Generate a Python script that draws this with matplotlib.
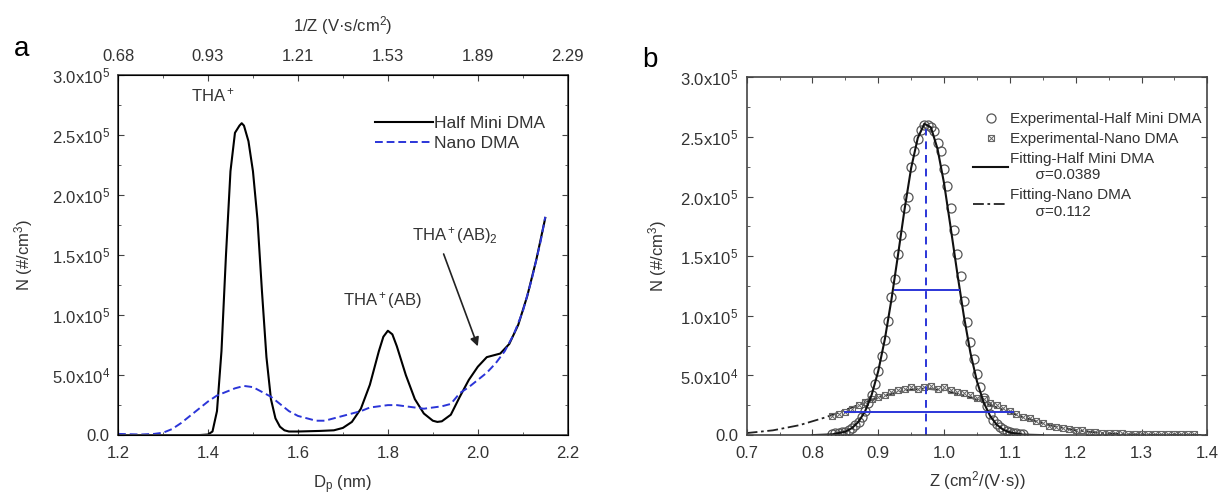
import numpy as np
import matplotlib.pyplot as plt
from matplotlib.ticker import MultipleLocator

plt.rcParams['font.family'] = ['Liberation Sans', 'DejaVu Sans']
plt.rcParams['mathtext.fontset'] = 'custom'
plt.rcParams['mathtext.rm'] = 'Liberation Sans'
plt.rcParams['mathtext.it'] = 'Liberation Sans:italic'

# ---- panel a: size distributions (N in units of 1e3 #/cm3)
dp_half = [1.20, 1.30, 1.38, 1.40, 1.41, 1.42, 1.43, 1.44, 1.45, 1.46, 1.465, 1.47, 1.475,
           1.48, 1.49, 1.50, 1.51, 1.52, 1.53, 1.54, 1.55, 1.56, 1.57, 1.58, 1.60, 1.65,
           1.68, 1.70, 1.72, 1.74, 1.76, 1.78, 1.79, 1.80, 1.81, 1.82, 1.84, 1.86, 1.88,
           1.90, 1.91, 1.92, 1.94, 1.96, 1.98, 2.00, 2.02, 2.04, 2.05, 2.07, 2.09, 2.11,
           2.13, 2.15]
n_half = [0, 0, 0, 0.5, 3, 20, 70, 150, 220, 252, 255, 258, 260,
          258, 245, 220, 180, 120, 65, 30, 14, 7, 4, 3, 3, 3.5,
          4, 6, 11, 22, 42, 70, 82, 87, 84, 74, 50, 30, 18,
          12, 11, 11.5, 17, 32, 46, 57, 65, 67, 68, 76, 92, 116,
          146, 181]

dp_nano = [1.20, 1.25, 1.28, 1.30, 1.32, 1.34, 1.36, 1.38, 1.40, 1.42, 1.44, 1.46, 1.48,
           1.50, 1.52, 1.54, 1.56, 1.58, 1.60, 1.62, 1.64, 1.66, 1.68, 1.70, 1.72, 1.74,
           1.76, 1.78, 1.80, 1.82, 1.84, 1.86, 1.88, 1.90, 1.92, 1.94, 1.96, 1.98, 2.00,
           2.02, 2.04, 2.06, 2.08, 2.10, 2.12, 2.14, 2.15]
n_nano = [1, 0.5, 1, 2, 5, 10, 16, 22, 28, 33, 36, 39, 41,
          40, 36, 32, 26, 20, 16, 14, 12, 12, 14, 16, 18, 20,
          23, 24, 25, 25, 24, 23, 22, 23, 24, 26, 35, 40, 46,
          52, 60, 70, 84, 103, 130, 162, 182]

top_ticks = [1.2, 1.4, 1.6, 1.8, 2.0, 2.2]
top_labels = ['0.68', '0.93', '1.21', '1.53', '1.89', '2.29']

# ---- panel b: mobility distributions
z_half_exp = [0.830, 0.835, 0.840, 0.845, 0.850, 0.855, 0.860, 0.865, 0.870, 0.875, 0.880,
              0.885, 0.890, 0.895, 0.900, 0.905, 0.910, 0.915, 0.920, 0.925, 0.930, 0.935,
              0.940, 0.945, 0.950, 0.955, 0.960, 0.965, 0.970, 0.975, 0.980, 0.985, 0.990,
              0.995, 1.000, 1.005, 1.010, 1.015, 1.020, 1.025, 1.030, 1.035, 1.040, 1.045,
              1.050, 1.055, 1.060, 1.065, 1.070, 1.075, 1.080, 1.085, 1.090, 1.095, 1.100,
              1.105, 1.110, 1.115, 1.120]
n_half_exp = [1, 1.5, 2, 2.5, 3, 4.5, 6, 8.5, 11, 15, 20,
              27, 34, 43, 54, 66, 80, 96, 116, 131, 152, 168,
              190, 200, 225, 238, 248, 256, 260, 260, 258, 255, 245,
              238, 223, 209, 190, 172, 152, 133, 112, 95, 78, 64,
              51, 40, 31, 24, 18, 13, 9.5, 7, 5, 3.5, 2.5,
              2, 1.5, 1, 0.8]

z_nano_exp = [0.83, 0.84, 0.85, 0.86, 0.87, 0.88, 0.89, 0.90, 0.91, 0.92, 0.93, 0.94, 0.95,
              0.96, 0.97, 0.98, 0.99, 1.00, 1.01, 1.02, 1.03, 1.04, 1.05, 1.06, 1.07, 1.08,
              1.09, 1.10, 1.11, 1.12, 1.13, 1.14, 1.15, 1.16, 1.17, 1.18, 1.19, 1.20, 1.21,
              1.22, 1.23, 1.24, 1.25, 1.26, 1.27, 1.28, 1.29, 1.30, 1.31, 1.32, 1.33, 1.34,
              1.35, 1.36, 1.37, 1.38]
n_nano_exp = [16, 18, 19, 22, 25, 28, 30, 32, 34, 36, 38, 39, 40,
              39, 40, 41, 39, 40, 38, 36, 35, 34, 31, 30, 27, 25,
              23, 20, 18, 15, 14, 12, 10, 8, 7, 6, 5, 4.5, 4,
              3, 2.5, 2, 2, 1.5, 1.5, 1, 1, 1, 1, 0.8, 0.8, 0.8,
              0.8, 0.8, 0.8, 0.8]

z_half_fit = [0.80, 0.83, 0.85, 0.86, 0.87, 0.88, 0.89, 0.90, 0.91, 0.92, 0.93, 0.94, 0.95,
              0.96, 0.97, 0.98, 0.99, 1.00, 1.01, 1.02, 1.03, 1.04, 1.05, 1.06, 1.07, 1.08,
              1.09, 1.10, 1.12, 1.15]
n_half_fit = [0, 0.6, 2.9, 5.9, 11.2, 20, 33.8, 53.7, 80.4, 113.6, 151, 189.5, 224,
              249, 261, 258, 240, 211, 174, 136, 100, 69, 45, 27.6, 16, 8.7,
              4.5, 2.2, 0.4, 0]

z_nano_fit = [0.70, 0.74, 0.78, 0.82, 0.86, 0.90, 0.94, 0.97, 1.00, 1.04, 1.08, 1.12, 1.16,
              1.20, 1.24, 1.28, 1.32, 1.36, 1.40]
n_nano_fit = [1.7, 4.0, 8.3, 14.9, 23.2, 31.6, 37.5, 39, 37.5, 31.6, 23.2, 14.9, 8.3,
              4.0, 1.7, 0.6, 0.2, 0.05, 0]

z_peak = 0.973
fwhm_half = (0.926, 1.022, 122)
fwhm_nano = (0.85, 1.105, 19)

ytick_vals = [0, 50e3, 100e3, 150e3, 200e3, 250e3, 300e3]
ytick_labels = ['0.0', r'5.0x10$^4$', r'1.0x10$^5$', r'1.5x10$^5$',
                r'2.0x10$^5$', r'2.5x10$^5$', r'3.0x10$^5$']

TXT = '#333333'
BLUE = '#2b35d8'
FS = 12


def style_axes(ax, ylabelpad):
    for sp in ax.spines.values():
        sp.set_linewidth(1.2)
        sp.set_color('#444444')
    ax.tick_params(which='both', direction='in', top=True, right=True,
                   labelsize=FS, colors='#444444', labelcolor=TXT)
    ax.tick_params(axis='x', pad=8)
    ax.tick_params(axis='y', pad=6)
    ax.tick_params(which='major', length=4)
    ax.tick_params(which='minor', length=2.5)
    ax.set_ylim(0, 300e3)
    ax.set_yticks(ytick_vals)
    ax.set_yticklabels(ytick_labels)
    ax.yaxis.set_minor_locator(MultipleLocator(25e3))
    ax.set_ylabel('N (#/cm$^3$)', fontsize=FS, color=TXT, labelpad=ylabelpad)


fig = plt.figure(figsize=(12.22, 4.95), dpi=100)

# ---------------- panel a
ax1 = fig.add_axes([0.0966, 0.121, 0.368, 0.727])
ax1.plot(dp_half, np.array(n_half) * 1e3, color='black', lw=1.5, label='Half Mini DMA')
ax1.plot(dp_nano, np.array(n_nano) * 1e3, color=BLUE, lw=1.4, ls=(0, (4, 2)), label='Nano DMA')
ax1.set_xlim(1.2, 2.2)
ax1.xaxis.set_major_locator(MultipleLocator(0.2))
ax1.xaxis.set_minor_locator(MultipleLocator(0.1))
ax1.xaxis.set_major_formatter(plt.FuncFormatter(lambda v, p: f'{v:.1f}'))
style_axes(ax1, 12)
ax1.tick_params(top=False)
ax1.set_xlabel(r'D$_\mathrm{p}$ (nm)', fontsize=FS, color=TXT, labelpad=9)

ax1t = ax1.twiny()
ax1t.set_xlim(1.2, 2.2)
ax1t.set_xticks(top_ticks)
ax1t.set_xticklabels(top_labels)
ax1t.xaxis.set_minor_locator(MultipleLocator(0.1))
ax1t.tick_params(which='both', direction='in', labelsize=FS, colors='#444444',
                 labelcolor=TXT, pad=8)
ax1t.tick_params(which='major', length=4)
ax1t.tick_params(which='minor', length=2.5)
ax1t.set_xlabel('1/Z (V·s/cm$^2$)', fontsize=FS, color=TXT, labelpad=13)

ax1.text(1.41, 283e3, 'THA$^+$', fontsize=FS, color=TXT, ha='center', va='center')
ax1.text(1.787, 112e3, 'THA$^+$(AB)', fontsize=FS, color=TXT, ha='center', va='center')
ax1.text(1.95, 166e3, 'THA$^+$(AB)$_2$', fontsize=FS, color=TXT, ha='center', va='center')
ax1.annotate('', xy=(2.0, 74e3), xytext=(1.924, 151e3),
             arrowprops=dict(arrowstyle='-|>', color='#222222', lw=1.2,
                             shrinkA=0, shrinkB=0, mutation_scale=13))
ax1.legend(loc='upper right', bbox_to_anchor=(0.985, 0.93), frameon=False, fontsize=12.5,
           handlelength=3.3, handletextpad=0.1, labelspacing=0.25, labelcolor=TXT)
fig.text(0.018, 0.9, 'a', fontsize=20, color='black', ha='center', va='center')

# ---------------- panel b
ax2 = fig.add_axes([0.611, 0.121, 0.377, 0.723])
h_fn, = ax2.plot(z_nano_fit, np.array(n_nano_fit) * 1e3, color='#222222', lw=1.3,
                 ls=(0, (6, 2, 1.5, 2)))
h_sq, = ax2.plot(z_nano_exp, np.array(n_nano_exp) * 1e3, ls='none', marker='s', ms=5,
                 mfc='none', mec='#666666', mew=0.8)
h_x, = ax2.plot(z_nano_exp, np.array(n_nano_exp) * 1e3, ls='none', marker='x', ms=4,
                mec='#666666', mew=0.7)
h_c, = ax2.plot(z_half_exp, np.array(n_half_exp) * 1e3, ls='none', marker='o', ms=6.5,
                mfc='none', mec='#555555', mew=0.9)
h_fh, = ax2.plot(z_half_fit, np.array(n_half_fit) * 1e3, color='#111111', lw=1.5)

ax2.plot([z_peak, z_peak], [0, 257e3], color=BLUE, lw=1.4, ls=(0, (4, 3)))
ax2.plot(fwhm_half[:2], [fwhm_half[2] * 1e3] * 2, color=BLUE, lw=1.4)
ax2.plot(fwhm_nano[:2], [fwhm_nano[2] * 1e3] * 2, color=BLUE, lw=1.4)

ax2.set_xlim(0.7, 1.4)
ax2.xaxis.set_major_locator(MultipleLocator(0.1))
ax2.xaxis.set_minor_locator(MultipleLocator(0.05))
ax2.xaxis.set_major_formatter(plt.FuncFormatter(lambda v, p: f'{v:.1f}'))
style_axes(ax2, 8)
ax2.set_xlabel('Z (cm$^2$/(V·s))', fontsize=FS, color=TXT, labelpad=6)

ax2.legend([h_c, (h_sq, h_x), h_fh, h_fn],
           ['Experimental-Half Mini DMA', 'Experimental-Nano DMA',
            'Fitting-Half Mini DMA\n      σ=0.0389', 'Fitting-Nano DMA\n      σ=0.112'],
           loc='upper right', bbox_to_anchor=(1.0, 0.92), frameon=False, fontsize=11,
           handlelength=2.3, handletextpad=0.1, labelspacing=0.4, borderaxespad=0,
           labelcolor=TXT)
fig.text(0.532, 0.878, 'b', fontsize=20, color='black', ha='center', va='center')

fig.savefig('out.png', dpi=100)
